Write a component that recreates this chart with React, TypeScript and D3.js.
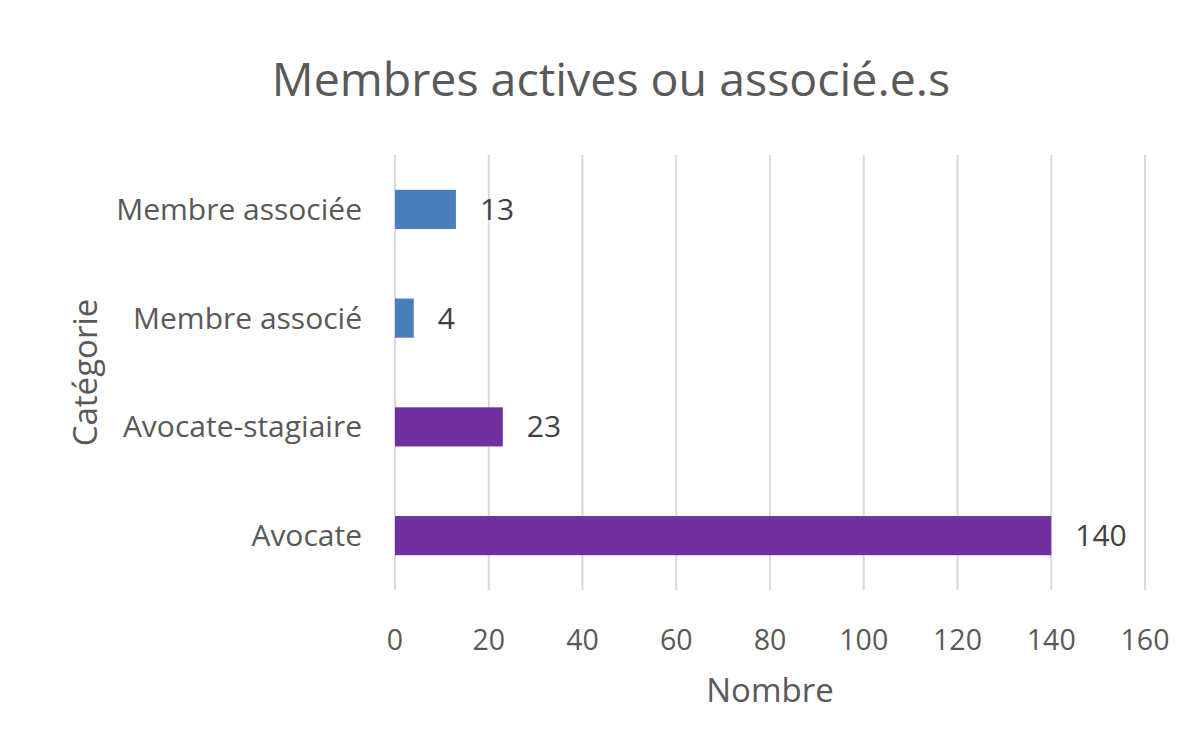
import React, { useEffect, useRef } from "react";
import * as d3 from "d3";

// Catégories de haut en bas, valeurs et couleurs
const categories = ["Membre associée", "Membre associé", "Avocate-stagiaire", "Avocate"];
const values = [13, 4, 23, 140];
const barColors = ["#4A7EBB", "#4A7EBB", "#7030A0", "#7030A0"];
const xTicks = [0, 20, 40, 60, 80, 100, 120, 140, 160];

const App = () => {
  const chartRef = useRef<SVGSVGElement | null>(null);

  useEffect(() => {
    document.body.style.margin = "0";
    const width = 1200;
    const height = 749;
    const left = 395;
    const right = 1145;
    const top = 155;
    const bottom = 590;
    const font = "Open Sans, Liberation Sans, sans-serif";
    const textColor = "#595959";

    const svg = d3.select(chartRef.current);
    svg.selectAll("*").remove();
    svg.attr("width", width).attr("height", height).style("background", "#ffffff");

    const x = d3.scaleLinear().domain([0, 160]).range([left, right]);
    const y = d3.scaleBand<string>()
      .domain(categories)
      .range([top, bottom])
      .paddingInner(0.64)
      .paddingOuter(0.32);

    // gridlines
    svg.append("g")
      .selectAll("line")
      .data(xTicks)
      .join("line")
      .attr("x1", d => x(d))
      .attr("x2", d => x(d))
      .attr("y1", top)
      .attr("y2", bottom)
      .attr("stroke", "#d9d9d9")
      .attr("stroke-width", 2);

    // bars
    svg.append("g")
      .selectAll("rect")
      .data(categories)
      .join("rect")
      .attr("x", x(0))
      .attr("y", d => y(d)!)
      .attr("width", (d, i) => x(values[i]) - x(0))
      .attr("height", y.bandwidth())
      .attr("fill", (d, i) => barColors[i]);

    // value labels
    svg.append("g")
      .selectAll("text")
      .data(categories)
      .join("text")
      .attr("x", (d, i) => x(values[i]) + 24)
      .attr("y", d => y(d)! + y.bandwidth() / 2)
      .attr("dy", "0.35em")
      .attr("fill", "#404040")
      .style("font", `30px ${font}`)
      .text((d, i) => values[i]);

    // category labels
    svg.append("g")
      .selectAll("text")
      .data(categories)
      .join("text")
      .attr("x", left - 33)
      .attr("y", d => y(d)! + y.bandwidth() / 2)
      .attr("dy", "0.35em")
      .attr("text-anchor", "end")
      .attr("fill", textColor)
      .style("font", `30px ${font}`)
      .text(d => d);

    // tick labels
    svg.append("g")
      .selectAll("text")
      .data(xTicks)
      .join("text")
      .attr("x", d => x(d))
      .attr("y", 640)
      .attr("dy", "0.35em")
      .attr("text-anchor", "middle")
      .attr("fill", textColor)
      .style("font", `28.5px ${font}`)
      .text(d => d);

    // axis titles
    svg.append("text")
      .attr("x", (left + right) / 2)
      .attr("y", 690)
      .attr("dy", "0.35em")
      .attr("text-anchor", "middle")
      .attr("fill", textColor)
      .style("font", `33px ${font}`)
      .text("Nombre");

    svg.append("text")
      .attr("transform", `translate(85,${(top + bottom) / 2}) rotate(-90)`)
      .attr("dy", "0.35em")
      .attr("text-anchor", "middle")
      .attr("fill", textColor)
      .style("font", `33px ${font}`)
      .text("Catégorie");

    // title
    svg.append("text")
      .attr("x", 611)
      .attr("y", 80)
      .attr("dy", "0.35em")
      .attr("text-anchor", "middle")
      .attr("fill", textColor)
      .style("font", `46.5px ${font}`)
      .text("Membres actives ou associé.e.s");
  }, []);

  return <svg ref={chartRef} style={{ display: "block" }}></svg>;
};

export default App;
